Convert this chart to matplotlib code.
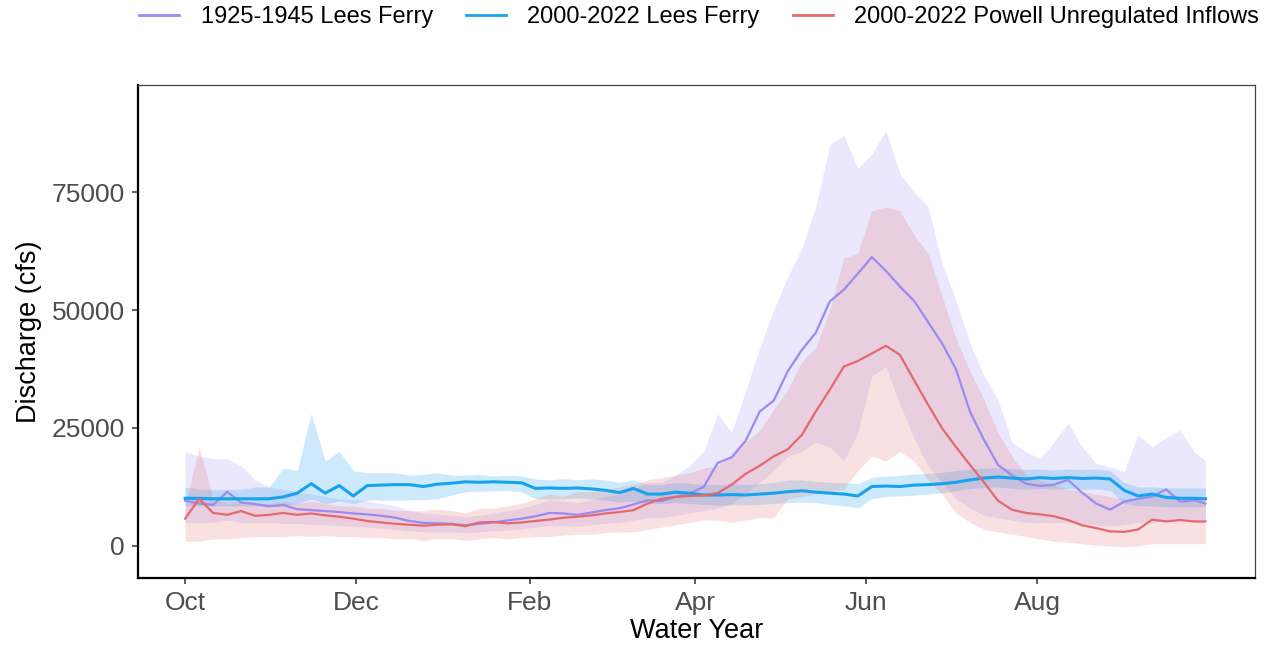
import numpy as np
import matplotlib
matplotlib.use("Agg")
import matplotlib.pyplot as plt
from matplotlib.lines import Line2D

plt.rcParams['font.family'] = ['Liberation Sans', 'DejaVu Sans']

# day of water year (0 = Oct 1)
day = np.arange(0, 361, 5).tolist() + [364]

tick_days = [0, 61, 123, 182, 243, 304]
tick_labels = ["Oct", "Dec", "Feb", "Apr", "Jun", "Aug"]
y_ticks = [0, 25000, 50000, 75000]

series_names = ["1925-1945 Lees Ferry", "2000-2022 Lees Ferry",
                "2000-2022 Powell Unregulated Inflows"]

# 2000-2022 Lees Ferry
blue_mean = [10100, 10100, 10000, 10000, 10000, 10000, 10000, 10400, 11200, 13200,
             11200, 12800, 10600, 12800, 12900, 13000, 13000, 12600, 13100, 13300,
             13600, 13500, 13600, 13500, 13400, 12200, 12300, 12200, 12300, 12100,
             11800, 11300, 12200, 11000, 11000, 11400, 11200, 10800, 10800, 10900,
             10800, 11000, 11200, 11500, 11700, 11400, 11200, 11000, 10600, 12600,
             12700, 12600, 12900, 13000, 13200, 13500, 14000, 14400, 14600, 14400,
             14200, 14500, 14300, 14500, 14300, 14400, 14200, 11800, 10600, 11000,
             10300, 10100, 10100, 10000]
blue_lo = [8500, 8500, 8500, 8500, 8500, 8500, 8500, 8500, 9000, 10000,
           9000, 9500, 9000, 9700, 9700, 9700, 9800, 9800, 10000, 10800,
           11500, 11600, 11700, 11800, 11500, 10000, 10000, 10000, 10200, 10000,
           9700, 9300, 9500, 9000, 9000, 9200, 9000, 8800, 8700, 8700,
           8700, 8800, 9000, 9200, 9300, 9200, 8800, 8500, 8100, 10000,
           10500, 10600, 10800, 11000, 11300, 11700, 12200, 12400, 12500, 12200,
           12000, 12200, 12000, 12200, 12000, 12100, 11800, 9000, 8500, 8500,
           8300, 8300, 8300, 8300]
blue_hi = [12500, 12000, 12000, 12000, 12000, 12500, 12500, 16500, 16000, 28000,
           18000, 20000, 16000, 15500, 15500, 15500, 15000, 15200, 15500, 15000,
           15000, 15200, 14800, 15000, 14800, 14200, 14000, 14300, 14000, 14200,
           14000, 13500, 14000, 13000, 13000, 13500, 13300, 13000, 13000, 13200,
           13000, 13200, 13500, 14000, 14000, 13700, 13500, 13400, 13200, 14500,
           14800, 15000, 15200, 15400, 15600, 16000, 16300, 16500, 16600, 16400,
           16200, 16300, 16100, 16300, 16200, 16300, 16000, 13500, 12500, 12500,
           12300, 12300, 12300, 12300]

# 1925-1945 Lees Ferry
purple_mean = [9600, 9000, 8700, 11500, 9200, 8900, 8400, 8700, 7800, 7600,
               7400, 7200, 6900, 6700, 6400, 6000, 5300, 4900, 4800, 4700,
               4400, 4700, 5000, 5400, 5800, 6300, 7000, 6900, 6600, 7100,
               7600, 8000, 8800, 9700, 9500, 10400, 11200, 12500, 17600, 18800,
               22300, 28500, 30800, 37000, 41500, 45200, 51800, 54300, 57700, 61200,
               58300, 55000, 52000, 47500, 43000, 37500, 28500, 22500, 17200, 15000,
               13200, 12700, 13000, 14000, 11300, 9000, 7700, 9400, 10000, 10500,
               12000, 9400, 9700, 9000]
purple_lo = [5000, 5000, 5000, 5500, 5000, 5000, 5000, 4800, 4800, 4500,
             4500, 4300, 4200, 4000, 3800, 3500, 3200, 3000, 3000, 3000,
             2800, 3000, 3200, 3400, 3600, 4000, 4300, 4300, 4200, 4500,
             4800, 5000, 5500, 6000, 6000, 6500, 7000, 7500, 8000, 9000,
             11000, 13500, 16000, 19000, 20000, 22000, 21000, 18000, 24000, 36000,
             38000, 30000, 23000, 17000, 13500, 10000, 8000, 6500, 6000, 5500,
             5000, 5000, 5000, 5000, 4800, 4500, 4200, 4500, 5000, 5000,
             5500, 5500, 5000, 5000]
purple_hi = [20000, 19000, 18500, 18500, 17000, 14000, 12500, 12000, 11500, 11000,
             10500, 10000, 9800, 9500, 9000, 8500, 7500, 7000, 6800, 6500,
             6200, 6500, 7000, 7500, 8000, 8800, 9800, 9500, 9200, 9800,
             10500, 11000, 12000, 13500, 13500, 15000, 17000, 20000, 28000, 24000,
             33000, 42000, 50000, 57000, 63000, 72000, 85000, 87000, 80000, 83000,
             88000, 79000, 75000, 72000, 60000, 52000, 43000, 36000, 31000, 22000,
             20000, 18500, 22000, 26000, 21000, 17500, 16700, 15800, 23500, 21000,
             23000, 24500, 20000, 18000]

# 2000-2022 Powell Unregulated Inflows
red_mean = [5800, 10000, 7000, 6600, 7400, 6400, 6600, 7000, 6600, 6900,
            6500, 6200, 5800, 5300, 5000, 4700, 4500, 4300, 4500, 4600,
            4200, 5000, 5100, 4800, 5000, 5300, 5600, 6000, 6200, 6500,
            6900, 7200, 7600, 9000, 10000, 10400, 10600, 10700, 11200, 13000,
            15300, 17000, 19000, 20500, 23500, 28500, 33100, 38000, 39200, 40800,
            42400, 40500, 35200, 30000, 25000, 21000, 17200, 13500, 9600, 7700,
            7000, 6700, 6300, 5500, 4400, 3800, 3100, 3000, 3500, 5600,
            5200, 5500, 5200, 5200]
red_lo = [1000, 1000, 1500, 1500, 1800, 2000, 2000, 2000, 2200, 2000,
          2200, 2000, 2000, 1800, 1800, 1500, 1500, 1200, 1500, 1500,
          1200, 1500, 1800, 1500, 1800, 2000, 2000, 2300, 2500, 2500,
          2800, 3000, 3000, 3500, 4000, 4500, 5000, 5500, 5500, 5000,
          5500, 6000, 6000, 10000, 10500, 11000, 11500, 12000, 16000, 19000,
          18000, 20000, 18000, 14000, 11000, 7000, 5000, 3500, 3000, 2500,
          2000, 1500, 1000, 800, 500, 200, 0, -200, 0, 500,
          500, 500, 500, 500]
red_hi = [8500, 21000, 10000, 9000, 9500, 9000, 9000, 9500, 9000, 9500,
          9000, 8500, 8500, 8000, 8000, 7500, 7500, 7500, 7800, 7500,
          7000, 8000, 8000, 8500, 9000, 10000, 11000, 10500, 11500, 11500,
          12000, 12500, 13000, 14000, 14500, 15000, 15500, 16500, 17000, 19000,
          22000, 24500, 29000, 33000, 39000, 42000, 50000, 61000, 62000, 71000,
          71800, 71000, 66000, 62000, 53000, 44000, 37000, 31000, 24000, 19000,
          15000, 14000, 13000, 12000, 11500, 11000, 10500, 10000, 10000, 10500,
          10500, 10500, 10500, 10500]

c_purple = "#9C8AF0"
c_blue = "#17A2EE"
c_red = "#E26A6C"

W, H = 1278, 651
fig = plt.figure(figsize=(W / 100, H / 100), dpi=100)
ax = fig.add_axes([138 / W, 1 - 578 / H, (1255 - 138) / W, (578 - 85) / H])

ax.fill_between(day, purple_lo, purple_hi, color=c_purple, alpha=0.2, lw=0)
ax.fill_between(day, blue_lo, blue_hi, color=c_blue, alpha=0.22, lw=0)
ax.fill_between(day, red_lo, red_hi, color=c_red, alpha=0.2, lw=0)

ax.plot(day, purple_mean, color=c_purple, lw=1.6, solid_joinstyle="round")
ax.plot(day, blue_mean, color=c_blue, lw=2.2, solid_joinstyle="round")
ax.plot(day, red_mean, color=c_red, lw=1.6, solid_joinstyle="round")

ax.set_xlim(-16.8, 381.7)
ax.set_ylim(-6780, 97670)
ax.set_xticks(tick_days)
ax.set_xticklabels(tick_labels)
ax.set_yticks(y_ticks)
ax.set_yticklabels([str(v) for v in y_ticks])

for s in ["left", "bottom"]:
    ax.spines[s].set_linewidth(1.6)
    ax.spines[s].set_color("black")
for s in ["top", "right"]:
    ax.spines[s].set_linewidth(0.9)
    ax.spines[s].set_color("#444444")

ax.tick_params(axis="both", length=4.5, width=1.1, color="#333333",
               labelsize=19, labelcolor="#4D4D4D", pad=5)
ax.set_xlabel("Water Year", fontsize=19.5, color="black", labelpad=2)
ax.set_ylabel("Discharge (cfs)", fontsize=19.5, color="black", labelpad=7)

handles = [Line2D([0], [0], color=c, lw=2) for c in (c_purple, c_blue, c_red)]
fig.legend(handles, series_names, loc="center", bbox_to_anchor=(0.547, 0.974),
           ncol=3, frameon=False, fontsize=17, handlelength=1.7,
           handletextpad=0.9, columnspacing=1.4)

fig.savefig("out.png", dpi=100)
